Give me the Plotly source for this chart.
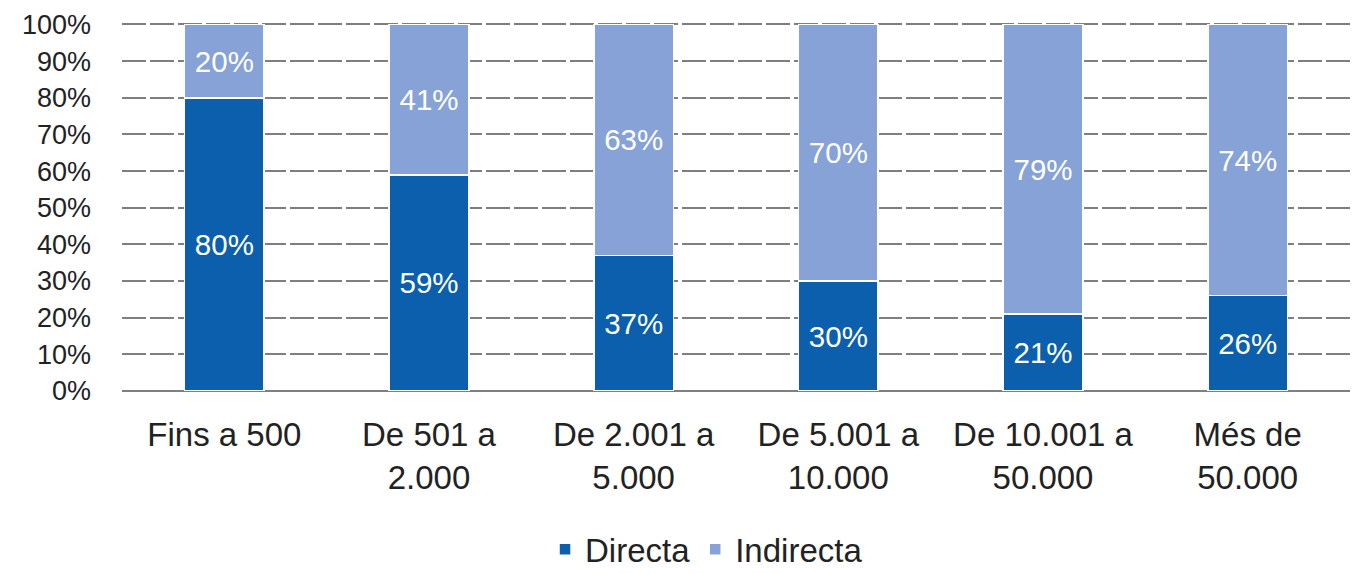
import plotly.graph_objects as go

categories = ["Fins a 500", "De 501 a<br>2.000", "De 2.001 a<br>5.000",
              "De 5.001 a<br>10.000", "De 10.001 a<br>50.000", "Més de<br>50.000"]
directa = [80, 59, 37, 30, 21, 26]
indirecta = [20, 41, 63, 70, 79, 74]
tick_vals = [0, 10, 20, 30, 40, 50, 60, 70, 80, 90, 100]
tick_text = [f"{v}%" for v in tick_vals]

FONT = "Liberation Sans, Arial"

fig = go.Figure()
fig.add_trace(go.Bar(
    x=categories, y=directa, name="Directa",
    marker=dict(color="#0b5fad", line=dict(color="white", width=1.5)),
    text=[f"{v}%" for v in directa], textposition="inside",
    insidetextanchor="middle",
    textfont=dict(color="white", size=29.5, family=FONT),
))
fig.add_trace(go.Bar(
    x=categories, y=indirecta, name="Indirecta",
    marker=dict(color="#86a2d6", line=dict(color="white", width=1.5)),
    text=[f"{v}%" for v in indirecta], textposition="inside",
    insidetextanchor="middle",
    textfont=dict(color="white", size=29.5, family=FONT),
))

fig.update_layout(
    barmode="stack",
    bargap=0.61,
    width=1355, height=565,
    margin=dict(l=114, r=13, t=15, b=182, autoexpand=False),
    plot_bgcolor="white", paper_bgcolor="white",
    font=dict(family=FONT, color="#222222"),
    uniformtext=dict(mode="show", minsize=10),
    legend=dict(orientation="h", x=0.476, xanchor="center", y=-0.43, yanchor="middle",
                font=dict(size=33, color="#222222"), itemwidth=30,
                traceorder="normal"),
    xaxis=dict(tickfont=dict(size=33, color="#222222"), showgrid=False,
               showline=False, ticks="", ticklabelstandoff=21),
    yaxis=dict(range=[0, 100.4], tickvals=tick_vals, ticktext=tick_text,
               tickfont=dict(size=27, color="#222222"),
               showgrid=True, gridcolor="#7f7f7f", gridwidth=2, griddash="24px,4px",
               zeroline=True, zerolinecolor="#7f7f7f", zerolinewidth=2,
               ticks="", ticklabelstandoff=30),
)

fig.write_html("out.html")
